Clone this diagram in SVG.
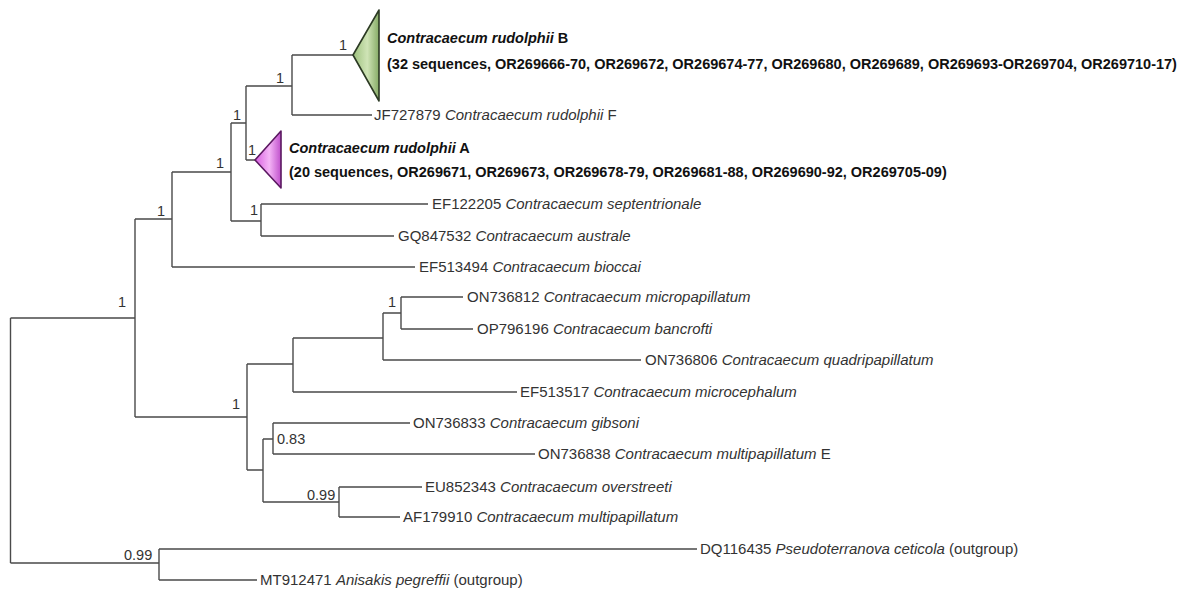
<svg xmlns="http://www.w3.org/2000/svg" width="1181" height="593" viewBox="0 0 1181 593">
<style>
.br{fill:none;stroke:#4a4a4a;stroke-width:1.4}
.lb{font-family:"Liberation Sans",Arial,sans-serif;font-size:15px;fill:#333}
.sp{font-style:italic}
.bs{font-family:"Liberation Sans",Arial,sans-serif;font-size:14.5px;font-weight:bold;fill:#111}
.sup{font-family:"Liberation Sans",Arial,sans-serif;font-size:14.5px;fill:#333}
</style>
<defs>
<linearGradient id="gG" x1="0" y1="0" x2="1" y2="0">
<stop offset="0" stop-color="#9cc07c"/>
<stop offset="0.55" stop-color="#cfe4b6"/>
<stop offset="1" stop-color="#86ab66"/>
</linearGradient>
<linearGradient id="gM" x1="0" y1="0" x2="1" y2="0">
<stop offset="0" stop-color="#d75ee0"/>
<stop offset="0.55" stop-color="#f4b4f6"/>
<stop offset="1" stop-color="#c050cc"/>
</linearGradient>
</defs>
<g id="connectors">
<path class="br" d="M10.5,318 V563 M10.5,318 H135 M10.5,563 H159"/>
<path class="br" d="M135,219 V417 M135,219 H172 M135,417 H247"/>
<path class="br" d="M172,172 V267 M172,172 H231 M172,267 H415"/>
<path class="br" d="M231,123 V221 M231,123 H246 M231,221 H261"/>
<path class="br" d="M246,86 V160 M246,86 H292 M246,160 H255"/>
<path class="br" d="M292,55 V115 M292,55 H353 M292,115 H372"/>
<path class="br" d="M261,204 V236 M261,204 H428 M261,236 H394"/>
<path class="br" d="M247,364 V470 M247,364 H293 M247,470 H263"/>
<path class="br" d="M293,338 V392 M293,338 H383 M293,392 H517"/>
<path class="br" d="M383,313 V360 M383,313 H401 M383,360 H641"/>
<path class="br" d="M401,297 V329 M401,297 H463 M401,329 H473"/>
<path class="br" d="M263,439 V502 M263,439 H273 M263,502 H339"/>
<path class="br" d="M273,423 V454 M273,423 H410 M273,454 H535"/>
<path class="br" d="M339,487 V517 M339,487 H422 M339,517 H400"/>
<path class="br" d="M159,549 V580 M159,549 H697 M159,580 H257"/>
</g>
<g id="support">
<text class="sup" x="118" y="307">1</text>
<text class="sup" x="157" y="216">1</text>
<text class="sup" x="216" y="168">1</text>
<text class="sup" x="233" y="120">1</text>
<text class="sup" x="276" y="83">1</text>
<text class="sup" x="339" y="50">1</text>
<text class="sup" x="248" y="155">1</text>
<text class="sup" x="250" y="215">1</text>
<text class="sup" x="232" y="409">1</text>
<text class="sup" x="388" y="307">1</text>
<text class="sup" x="277" y="444">0.83</text>
<text class="sup" x="307" y="500">0.99</text>
<text class="sup" x="124" y="560">0.99</text>
</g>
<g id="clade-B">
<path d="M353,55 L379,10 L379,101 Z" fill="url(#gG)" stroke="#2c3a24" stroke-width="1.6" stroke-linejoin="round"/>
<text class="bs" x="387" y="43"><tspan font-style="italic">Contracaecum rudolphii</tspan> B</text>
<text class="bs" x="387" y="69">(32 sequences, OR269666-70, OR269672, OR269674-77, OR269680, OR269689, OR269693-OR269704, OR269710-17)</text>
</g>
<g id="clade-A">
<path d="M255,160 L281,131 L281,188 Z" fill="url(#gM)" stroke="#5a1860" stroke-width="1.6" stroke-linejoin="round"/>
<text class="bs" x="289" y="153"><tspan font-style="italic">Contracaecum rudolphii</tspan> A</text>
<text class="bs" x="289" y="177">(20 sequences, OR269671, OR269673, OR269678-79, OR269681-88, OR269690-92, OR269705-09)</text>
</g>
<g id="JF727879"><text class="lb" x="374" y="120">JF727879 <tspan class="sp">Contracaecum rudolphii</tspan> F</text></g>
<g id="EF122205"><text class="lb" x="432" y="209">EF122205 <tspan class="sp">Contracaecum septentrionale</tspan></text></g>
<g id="GQ847532"><text class="lb" x="398" y="241">GQ847532 <tspan class="sp">Contracaecum australe</tspan></text></g>
<g id="EF513494"><text class="lb" x="419" y="272">EF513494 <tspan class="sp">Contracaecum bioccai</tspan></text></g>
<g id="ON736812"><text class="lb" x="467" y="302">ON736812 <tspan class="sp">Contracaecum micropapillatum</tspan></text></g>
<g id="OP796196"><text class="lb" x="477" y="334">OP796196 <tspan class="sp">Contracaecum bancrofti</tspan></text></g>
<g id="ON736806"><text class="lb" x="645" y="365">ON736806 <tspan class="sp">Contracaecum quadripapillatum</tspan></text></g>
<g id="EF513517"><text class="lb" x="520" y="397">EF513517 <tspan class="sp">Contracaecum microcephalum</tspan></text></g>
<g id="ON736833"><text class="lb" x="413" y="428">ON736833 <tspan class="sp">Contracaecum gibsoni</tspan></text></g>
<g id="ON736838"><text class="lb" x="538" y="459">ON736838 <tspan class="sp">Contracaecum multipapillatum</tspan> E</text></g>
<g id="EU852343"><text class="lb" x="425" y="492">EU852343 <tspan class="sp">Contracaecum overstreeti</tspan></text></g>
<g id="AF179910"><text class="lb" x="403" y="522">AF179910 <tspan class="sp">Contracaecum multipapillatum</tspan></text></g>
<g id="DQ116435"><text class="lb" x="700" y="554">DQ116435 <tspan class="sp">Pseudoterranova ceticola</tspan> (outgroup)</text></g>
<g id="MT912471"><text class="lb" x="260" y="585">MT912471 <tspan class="sp">Anisakis pegreffii</tspan> (outgroup)</text></g>
</svg>
